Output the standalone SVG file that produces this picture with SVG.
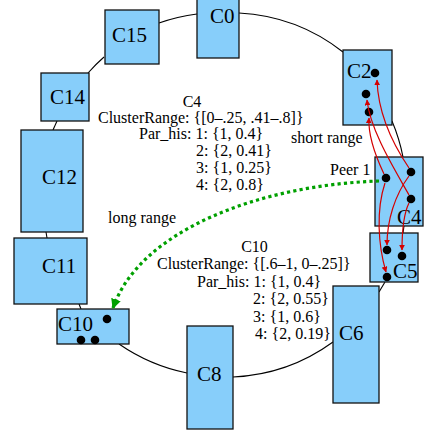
<svg xmlns="http://www.w3.org/2000/svg" width="429" height="432" viewBox="0 0 429 432">
<style>
  .box{fill:#87cefa;stroke:#111;stroke-width:1.3}
  .lbl{font-family:"Liberation Serif","Times New Roman",serif;font-size:21px;fill:#000}
  .txt{font-family:"Liberation Serif","Times New Roman",serif;font-size:16px;fill:#000}
  .ring{fill:none;stroke:#000;stroke-width:1.1}
  .dot{fill:#000}
  .red{fill:none;stroke:#d40000;stroke-width:1.2;marker-end:url(#ra)}
  .grn{fill:none;stroke:#00a000;stroke-width:3.2;stroke-dasharray:3.2 3.2;marker-end:url(#ga)}
</style>
<defs>
  <marker id="ra" viewBox="0 0 10 10" refX="9" refY="5" markerWidth="6" markerHeight="6" markerUnits="userSpaceOnUse" orient="auto">
    <path d="M0,0 L10,5 L0,10 z" fill="#d40000"/>
  </marker>
  <marker id="ga" viewBox="0 0 10 10" refX="9" refY="5" markerWidth="10" markerHeight="10" markerUnits="userSpaceOnUse" orient="auto">
    <path d="M0,0 L10,5 L0,10 z" fill="#00a000"/>
  </marker>
</defs>
<rect width="429" height="432" fill="#fff"/>
<g id="ring">
  <path class="ring" d="M239,13 A184,184 0 0 1 343,52"/>
  <path class="ring" d="M392,121 A184,184 0 0 1 403,157"/>
  <path class="ring" d="M404,226 L403,233"/>
  <path class="ring" d="M385,282 L379,292"/>
  <path class="ring" d="M333,342 A184,184 0 0 1 233,377"/>
  <path class="ring" d="M187,373 A184,184 0 0 1 119,344"/>
  <path class="ring" d="M81,309 L79,304"/>
  <path class="ring" d="M47,238 L46,232"/>
  <path class="ring" d="M53,130 L57,121"/>
  <path class="ring" d="M88,73 A184,184 0 0 1 104,57"/>
  <path class="ring" d="M159,23 A184,184 0 0 1 197,14"/>
</g>
<g id="C0"><rect class="box" x="197" y="-1" width="42" height="59"/><text class="lbl" x="210" y="23">C0</text></g>
<g id="C2"><rect class="box" x="343" y="50" width="49" height="75"/><text class="lbl" x="347" y="78">C2</text>
  <circle class="dot" cx="375" cy="73" r="4.3"/><circle class="dot" cx="366" cy="94" r="4.3"/><circle class="dot" cx="369" cy="112" r="4.3"/></g>
<g id="C4"><rect class="box" x="375" y="157" width="48" height="69"/><text class="lbl" x="397" y="224">C4</text>
  <circle class="dot" cx="386" cy="178" r="4.3"/><circle class="dot" cx="411" cy="172" r="4.3"/><circle class="dot" cx="411" cy="199" r="4.3"/></g>
<g id="C5"><rect class="box" x="370" y="233" width="48" height="49"/><text class="lbl" x="393" y="278">C5</text>
  <circle class="dot" cx="387" cy="250" r="4.3"/><circle class="dot" cx="402" cy="256" r="4.3"/><circle class="dot" cx="387" cy="277" r="4.3"/></g>
<g id="C6"><rect class="box" x="333" y="286" width="46" height="117"/><text class="lbl" x="339" y="340">C6</text></g>
<g id="C8"><rect class="box" x="187" y="326" width="46" height="103"/><text class="lbl" x="197" y="381">C8</text></g>
<g id="C10"><rect class="box" x="57" y="309" width="72" height="35"/><text class="lbl" x="58" y="331">C10</text>
  <circle class="dot" cx="107" cy="319" r="4.3"/><circle class="dot" cx="81" cy="340" r="4.3"/><circle class="dot" cx="95" cy="340" r="4.3"/></g>
<g id="C11"><rect class="box" x="14" y="238" width="73" height="66"/><text class="lbl" x="42" y="273">C11</text></g>
<g id="C12"><rect class="box" x="21" y="130" width="62" height="102"/><text class="lbl" x="42" y="184">C12</text></g>
<g id="C14"><rect class="box" x="41" y="73" width="48" height="48"/><text class="lbl" x="50" y="104">C14</text></g>
<g id="C15"><rect class="box" x="105" y="10" width="54" height="54"/><text class="lbl" x="112" y="42">C15</text></g>
<g id="arrows">
  <path class="red" d="M409,168 C390,140 378,110 377,80"/>
  <path class="red" d="M409,195 C395,170 370,130 367,100"/>
  <path class="red" d="M384,174 C375,155 368,135 369,118"/>
  <path class="red" d="M385,183 C376,210 378,245 386,272"/>
  <path class="red" d="M409,176 C395,195 387,220 387,245"/>
  <path class="red" d="M409,203 C403,215 402,235 402,250"/>
  <path class="grn" d="M379,181 C260,185 140,230 113,308"/>
</g>
<g id="notes">
  <text class="txt" x="192" y="107" text-anchor="middle">C4</text>
  <text class="txt" x="98" y="122.5">ClusterRange: {[0–.25, .41–.8]}</text>
  <text class="txt" x="139" y="139.3">Par_his: 1: {1, 0.4}</text>
  <text class="txt" x="196" y="156">2: {2, 0.41}</text>
  <text class="txt" x="196" y="172.7">3: {1, 0.25}</text>
  <text class="txt" x="196" y="190">4: {2, 0.8}</text>
  <text class="txt" x="291" y="143">short range</text>
  <text class="txt" x="330" y="175">Peer 1</text>
  <text class="txt" x="108" y="223">long range</text>
  <text class="txt" x="254.5" y="251.5" text-anchor="middle">C10</text>
  <text class="txt" x="157" y="269">ClusterRange: {[.6–1, 0–.25]}</text>
  <text class="txt" x="197" y="286.5">Par_his: 1: {1, 0.4}</text>
  <text class="txt" x="253" y="304">2: {2, 0.55}</text>
  <text class="txt" x="253" y="321.5">3: {1, 0.6}</text>
  <text class="txt" x="255" y="339">4: {2, 0.19}</text>
</g>
</svg>
